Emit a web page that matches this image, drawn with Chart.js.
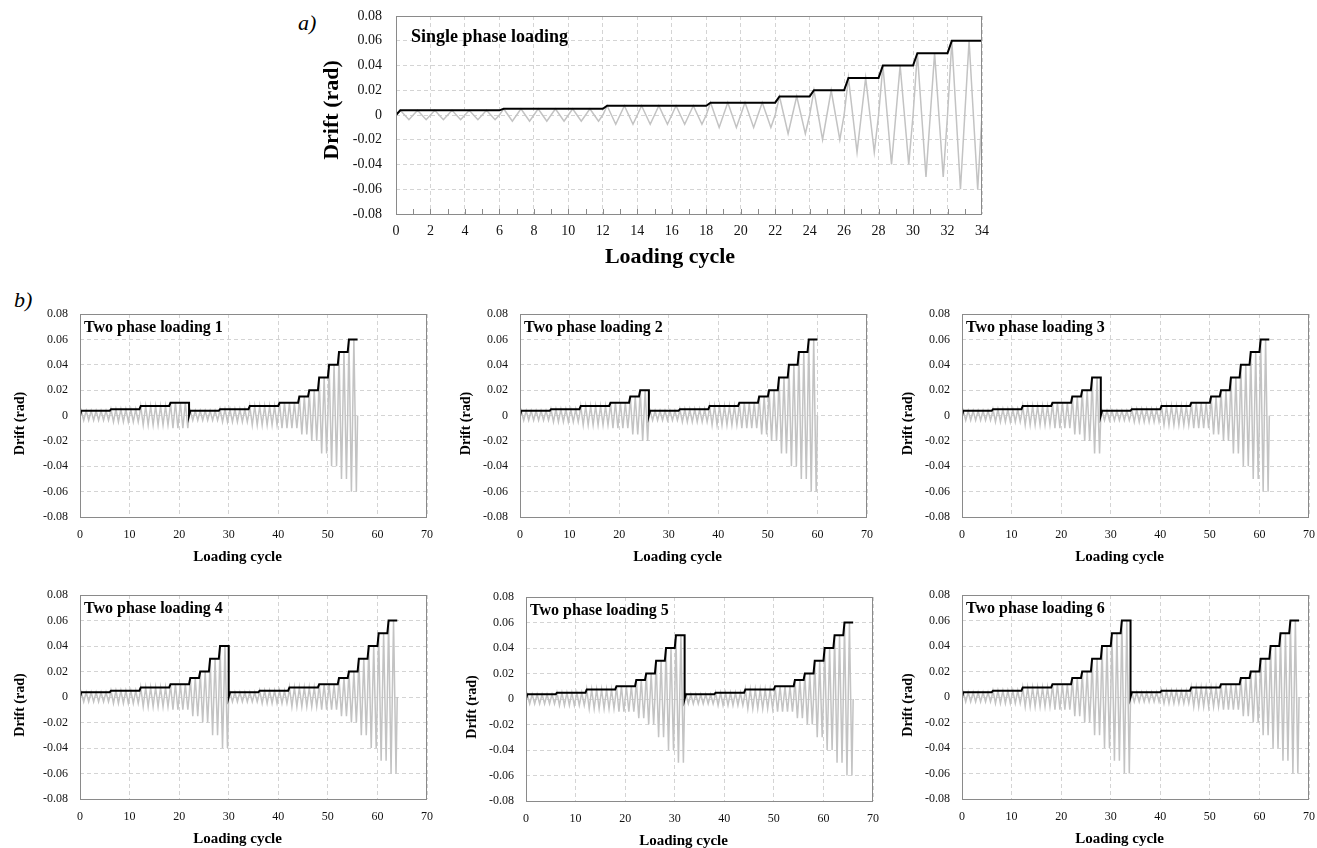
<!DOCTYPE html>
<html>
<head>
<meta charset="utf-8">
<title>Loading protocols</title>
<script src="https://cdn.jsdelivr.net/npm/chart.js@4.4.0/dist/chart.umd.min.js"></script>
<style>
  html, body { margin: 0; padding: 0; background: #fff; }
  body { width: 1317px; height: 848px; position: relative; overflow: hidden; font-family: "Liberation Serif", serif; }
  .box { position: absolute; }
  .tag { position: absolute; font-style: italic; font-size: 22px; color: #000; line-height: 1; }
</style>
</head>
<body>
<div class="tag" style="left:298px; top:12px;">a)</div>
<div class="tag" style="left:14px; top:289px;">b)</div>

<script>
// drift levels of the protocol and number of cycles run at each level
var driftLevels = [0.00375, 0.005, 0.0075, 0.01, 0.015, 0.02, 0.03, 0.04, 0.05, 0.06];
var cyclesAtLevel = [6, 6, 6, 4, 2, 2, 2, 2, 2, 2];

// peak drift reached in the first phase of each two phase test
var phaseOnePeak = [0.01, 0.02, 0.03, 0.04, 0.05, 0.06];
var panelNames = ['Two phase loading 1', 'Two phase loading 2', 'Two phase loading 3',
                  'Two phase loading 4', 'Two phase loading 5', 'Two phase loading 6'];

var yTicks = [-0.08, -0.06, -0.04, -0.02, 0, 0.02, 0.04, 0.06, 0.08];

// plot areas on the page
var singleBox = { left: 396, top: 16, right: 982, bottom: 214 };
var panelBoxes = [
    { left: 80, top: 314, right: 427, bottom: 517 },
    { left: 520, top: 314, right: 867, bottom: 517 },
    { left: 962, top: 314, right: 1309, bottom: 517 },
    { left: 80, top: 595, right: 427, bottom: 799 },
    { left: 526, top: 597, right: 873, bottom: 801 },
    { left: 962, top: 595, right: 1309, bottom: 799 }
];

var gridColor = '#d4d4d4';
var frameColor = '#8a8a8a';
var cycleColor = '#c3c3c3';
var fontFamily = '"Liberation Serif", "Times New Roman", serif';

// list of {drift, cycles} up to a given peak drift
function stepsUpTo(peak) {
    var out = [];
    driftLevels.forEach(function (d, i) {
        if (d <= peak + 1e-9) out.push({ drift: d, cycles: cyclesAtLevel[i] });
    });
    return out;
}

// triangular cycles: 0, +d, 0, -d per cycle
function cyclePoints(phases) {
    var pts = [];
    var x = 0;
    phases.forEach(function (steps) {
        steps.forEach(function (s) {
            for (var c = 0; c < s.cycles; c++) {
                pts.push({ x: x, y: 0 }, { x: x + 0.25, y: s.drift }, { x: x + 0.5, y: 0 }, { x: x + 0.75, y: -s.drift });
                x += 1;
            }
        });
    });
    pts.push({ x: x, y: 0 });
    return pts;
}

// stepped peak drift line
function envelopePoints(phases) {
    var pts = [];
    var x = 0;
    phases.forEach(function (steps) {
        pts.push({ x: x, y: 0 });
        steps.forEach(function (s) {
            pts.push({ x: x + 0.25, y: s.drift });
            x += s.cycles;
            pts.push({ x: x, y: s.drift });
        });
    });
    return pts;
}

// frame round the plot area
var framePlugin = {
    id: 'frame',
    afterDraw: function (chart, args, opts) {
        var a = chart.chartArea;
        var ctx = chart.ctx;
        ctx.save();
        ctx.strokeStyle = frameColor;
        ctx.lineWidth = 1;
        ctx.strokeRect(Math.round(a.left) + 0.5, Math.round(a.top) + 0.5,
            Math.round(a.right - a.left) - 1, Math.round(a.bottom - a.top));
        // short inward tick marks on the cycle axis
        if (opts.minorTicks) {
            var xs = chart.scales.x;
            ctx.beginPath();
            for (var v = xs.min + 1; v < xs.max; v++) {
                var px = Math.round(xs.getPixelForValue(v)) + 0.5;
                ctx.moveTo(px, a.bottom);
                ctx.lineTo(px, a.bottom - 5);
            }
            ctx.stroke();
        }
        ctx.restore();
    }
};

// in-plot label and axis titles
var textPlugin = {
    id: 'panelText',
    afterDraw: function (chart, args, o) {
        var a = chart.chartArea;
        var ctx = chart.ctx;
        ctx.save();
        ctx.fillStyle = '#000';
        ctx.textBaseline = 'middle';

        ctx.font = 'bold ' + o.labelSize + 'px ' + fontFamily;
        ctx.textAlign = 'left';
        ctx.fillText(o.label, a.left + o.labelDx, a.top + o.labelDy);

        ctx.font = 'bold ' + o.xTitleSize + 'px ' + fontFamily;
        ctx.textAlign = 'center';
        ctx.fillText('Loading cycle', (a.left + a.right) / 2 + o.xTitleDx, a.bottom + o.xTitleDy);

        ctx.font = 'bold ' + o.yTitleSize + 'px ' + fontFamily;
        ctx.translate(a.left - o.yTitleDx, (a.top + a.bottom) / 2 + o.yTitleDy);
        ctx.rotate(-Math.PI / 2);
        ctx.fillText('Drift (rad)', 0, 0);
        ctx.restore();
    }
};

function makeChart(box, cfg) {
    var axisW = cfg.axisW, axisH = cfg.axisH, padTop = 20, padRight = 12;
    var holder = document.createElement('div');
    holder.className = 'box';
    holder.style.left = (box.left - axisW) + 'px';
    holder.style.top = (box.top - padTop) + 'px';
    holder.style.width = (axisW + box.right - box.left + padRight) + 'px';
    holder.style.height = (padTop + box.bottom - box.top + axisH) + 'px';
    var canvas = document.createElement('canvas');
    holder.appendChild(canvas);
    document.body.appendChild(holder);

    return new Chart(canvas, {
        type: 'line',
        data: {
            datasets: [
                {
                    data: cfg.envelope,
                    borderColor: '#000',
                    borderWidth: 2,
                    pointRadius: 0,
                    tension: 0,
                    order: 0
                },
                {
                    data: cfg.cycles,
                    borderColor: cycleColor,
                    borderWidth: 1.5,
                    pointRadius: 0,
                    tension: 0,
                    order: 1
                }
            ]
        },
        options: {
            responsive: true,
            maintainAspectRatio: false,
            animation: false,
            events: [],
            layout: { padding: { top: padTop, right: padRight, left: 0, bottom: 0 } },
            scales: {
                x: {
                    type: 'linear',
                    min: 0,
                    max: cfg.xMax,
                    afterFit: function (s) { s.height = axisH; s.paddingLeft = 0; s.paddingRight = 0; },
                    border: { display: false, dash: [4, 3] },
                    grid: {
                        drawTicks: false,
                        color: function (c) {
                            return (c.tick && c.tick.value % cfg.gridStep === 0) ? gridColor : 'rgba(0,0,0,0)';
                        }
                    },
                    ticks: {
                        stepSize: cfg.xStep,
                        autoSkip: false,
                        maxRotation: 0,
                        padding: cfg.xTickPad,
                        color: '#111',
                        font: { family: fontFamily, size: cfg.tickSize },
                        callback: function (v) { return v % cfg.gridStep === 0 ? String(v) : ''; }
                    }
                },
                y: {
                    type: 'linear',
                    min: yTicks[0],
                    max: yTicks[yTicks.length - 1],
                    afterFit: function (s) { s.width = axisW; s.paddingTop = 0; s.paddingBottom = 0; },
                    afterBuildTicks: function (s) { s.ticks = yTicks.map(function (v) { return { value: v }; }); },
                    border: { display: false, dash: [4, 3] },
                    grid: { drawTicks: false, color: gridColor },
                    ticks: {
                        padding: cfg.yTickPad,
                        color: '#111',
                        font: { family: fontFamily, size: cfg.tickSize },
                        callback: function (v) { return Math.abs(v) < 1e-9 ? '0' : v.toFixed(2); }
                    }
                }
            },
            plugins: {
                legend: { display: false },
                tooltip: { enabled: false },
                frame: { minorTicks: cfg.minorTicks },
                panelText: cfg.text
            }
        },
        plugins: [framePlugin, textPlugin]
    });
}

// single phase protocol
var singleSteps = [stepsUpTo(0.06)];
makeChart(singleBox, {
    axisW: 80, axisH: 60, xMax: 34, xStep: 1, gridStep: 2, minorTicks: true,
    tickSize: 14, xTickPad: 9, yTickPad: 14,
    envelope: envelopePoints(singleSteps),
    cycles: cyclePoints(singleSteps),
    text: {
        label: 'Single phase loading', labelSize: 18, labelDx: 15, labelDy: 21,
        xTitleSize: 22, xTitleDx: -19, xTitleDy: 43,
        yTitleSize: 22, yTitleDx: 64, yTitleDy: -5
    }
});

// two phase protocols
phaseOnePeak.forEach(function (peak, i) {
    var phases = [stepsUpTo(peak), stepsUpTo(0.06)];
    var leftCol = (i % 3 === 0);
    makeChart(panelBoxes[i], {
        axisW: 75, axisH: 50, xMax: 70, xStep: 10, gridStep: 10, minorTicks: false,
        tickSize: 12, xTickPad: 11, yTickPad: 12,
        envelope: envelopePoints(phases),
        cycles: cyclePoints(phases),
        text: {
            label: panelNames[i], labelSize: 16, labelDx: 4, labelDy: 14,
            xTitleSize: 15, xTitleDx: -16, xTitleDy: 40,
            yTitleSize: 14, yTitleDx: leftCol ? 60 : 54, yTitleDy: 8
        }
    });
});
</script>
</body>
</html>
